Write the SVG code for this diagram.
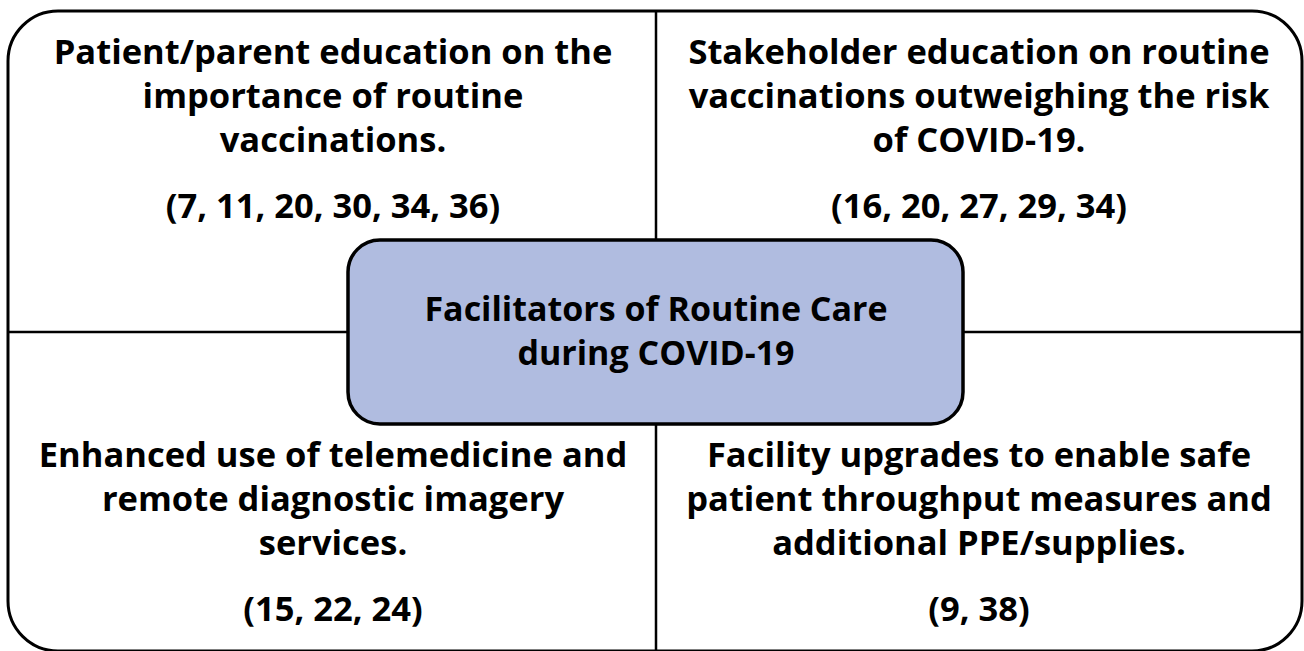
<svg xmlns="http://www.w3.org/2000/svg" width="1304" height="651" viewBox="0 0 1304 651">
  <style>
    .frame { fill: #ffffff; stroke: #000000; stroke-width: 3; }
    .divider { stroke: #000000; stroke-width: 2.5; fill: none; }
    .hub { fill: #b0bce0; stroke: #000000; stroke-width: 3.5; }
    .label { font-family: "Open Sans", "Noto Sans", "Liberation Sans", sans-serif; font-weight: bold; font-size: 34.5px; fill: #000000; text-anchor: middle; }
    .hub-label { font-size: 34px; }
  </style>

  <!-- outer frame -->
  <rect id="frame" class="frame" x="8" y="11" width="1294" height="640" rx="50" ry="50"/>

  <!-- quadrant dividers -->
  <g id="connectors">
    <line class="divider" x1="656" y1="11" x2="656" y2="651"/>
    <line class="divider" x1="8" y1="332" x2="1302" y2="332"/>
  </g>

  <g id="q-top-left">
    <text class="label" x="333" y="64">Patient/parent education on the</text>
    <text class="label" x="333" y="108">importance of routine</text>
    <text class="label" x="333" y="152">vaccinations.</text>
    <text class="label" x="333" y="218">(7, 11, 20, 30, 34, 36)</text>
  </g>

  <g id="q-top-right">
    <text class="label" x="979" y="64">Stakeholder education on routine</text>
    <text class="label" x="979" y="108">vaccinations outweighing the risk</text>
    <text class="label" x="979" y="152">of COVID-19.</text>
    <text class="label" x="979" y="218">(16, 20, 27, 29, 34)</text>
  </g>

  <g id="q-bottom-left">
    <text class="label" x="333" y="467">Enhanced use of telemedicine and</text>
    <text class="label" x="333" y="511">remote diagnostic imagery</text>
    <text class="label" x="333" y="555">services.</text>
    <text class="label" x="333" y="621">(15, 22, 24)</text>
  </g>

  <g id="q-bottom-right">
    <text class="label" x="979" y="467">Facility upgrades to enable safe</text>
    <text class="label" x="979" y="511">patient throughput measures and</text>
    <text class="label" x="979" y="555">additional PPE/supplies.</text>
    <text class="label" x="979" y="621">(9, 38)</text>
  </g>

  <g id="hub">
    <rect class="hub" x="348" y="240" width="615" height="184" rx="32" ry="32"/>
    <text class="label hub-label" x="656" y="321">Facilitators of Routine Care</text>
    <text class="label hub-label" x="656" y="365">during COVID-19</text>
  </g>
</svg>
